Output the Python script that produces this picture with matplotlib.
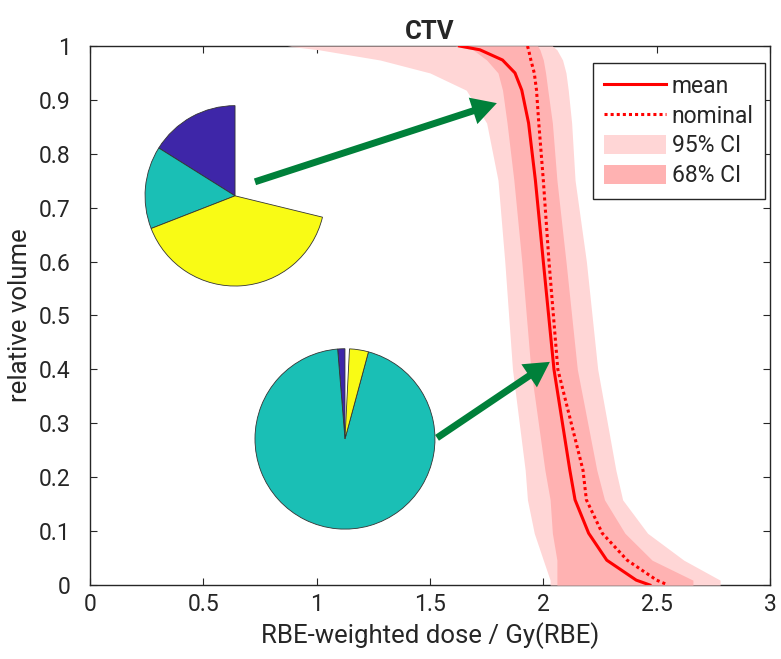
import numpy as np
import matplotlib
matplotlib.use("Agg")
import matplotlib.pyplot as plt
from matplotlib.lines import Line2D
from matplotlib.patches import Patch

plt.rcParams.update({
    'font.family': ['Roboto', 'DejaVu Sans'],
    'font.size': 16.5,
    'axes.linewidth': 1.0,
    'axes.edgecolor': '#262626',
    'text.color': '#262626',
    'axes.labelcolor': '#262626',
    'xtick.color': '#262626',
    'ytick.color': '#262626',
})

# DVH values (relative volume levels)
vol = [1.0, 0.993, 0.974, 0.95, 0.918, 0.857, 0.751, 0.60, 0.40, 0.213, 0.158, 0.096, 0.046, 0.009, 0.0]
dose_mean = [1.63, 1.72, 1.82, 1.875, 1.905, 1.935, 1.965, 2.0, 2.047, 2.117, 2.14, 2.20, 2.28, 2.41, 2.47]
dose_nominal = [1.93, 1.935, 1.945, 1.96, 1.97, 1.98, 2.0, 2.025, 2.064, 2.175, 2.19, 2.26, 2.37, 2.50, 2.55]
ci95_lo = [0.87, 1.01, 1.28, 1.50, 1.66, 1.75, 1.80, 1.83, 1.864, 1.92, 1.93, 1.96, 2.00, 2.03, 2.03]
ci95_hi = [2.04, 2.06, 2.085, 2.10, 2.11, 2.125, 2.14, 2.19, 2.24, 2.32, 2.35, 2.46, 2.62, 2.78, 2.78]
ci68_lo = [1.61, 1.69, 1.75, 1.80, 1.82, 1.84, 1.87, 1.905, 1.945, 2.007, 2.03, 2.04, 2.06, 2.06, 2.06]
ci68_hi = [1.975, 1.985, 2.0, 2.01, 2.02, 2.04, 2.06, 2.10, 2.15, 2.236, 2.27, 2.36, 2.48, 2.66, 2.66]

# pie fractions (do not sum to 1)
pie_top = [0.161, 0.148, 0.403]
pie_bottom = [0.013, 0.945, 0.034]
pie_colors = ['#3e26a8', '#1abfb5', '#f9fb15']

fig = plt.figure(figsize=(7.81, 6.59), dpi=100)
ax = fig.add_axes([0.1152, 0.1123, 0.8707, 0.8179])

ax.fill_betweenx(vol, ci95_lo, ci95_hi, color='#ffd6d6', lw=0, zorder=3)
ax.fill_betweenx(vol, ci68_lo, ci68_hi, color='#ffb2b2', lw=0, zorder=3.1)
ax.plot(dose_mean, vol, color='red', lw=2.2, zorder=4)
ax.plot(dose_nominal, vol, color='red', lw=2.2, ls=(0, (1, 1)), zorder=4)

ax.set_xlim(0, 3)
ax.set_ylim(0, 1)
ax.set_xticks(np.arange(0, 3.01, 0.5))
ax.set_xticklabels(['0', '0.5', '1', '1.5', '2', '2.5', '3'])
ax.set_yticks(np.arange(0, 1.01, 0.1))
ax.set_yticklabels(['0', '0.1', '0.2', '0.3', '0.4', '0.5', '0.6', '0.7', '0.8', '0.9', '1'])
ax.tick_params(direction='in', top=True, right=True, length=5, labelsize=16.5)
ax.tick_params(axis='x', pad=6)
ax.tick_params(axis='y', pad=14)
ax.set_xlabel('RBE-weighted dose / Gy(RBE)', fontsize=18.5, labelpad=4)
ax.set_ylabel('relative volume', fontsize=18.5, labelpad=5)
ax.set_title('CTV', fontweight='bold', fontsize=18.5, pad=5)

# pie insets
for vals, cx, cy in [(pie_top, 0.640, 0.722), (pie_bottom, 1.125, 0.271)]:
    rx, ry = 0.401, 0.169
    ins = ax.inset_axes([cx - rx, cy - ry, 2 * rx, 2 * ry], transform=ax.transData)
    ins.pie(vals, colors=pie_colors, startangle=90, counterclock=True, normalize=False,
            wedgeprops=dict(edgecolor='#333333', linewidth=0.6))
    ins.set_xlim(-1.01, 1.01)
    ins.set_ylim(-1.01, 1.01)
    ins.set_aspect('auto')
    ins.axis('off')

# arrows
for start, end in [((0.728, 0.748), (1.795, 0.894)), ((1.531, 0.273), (2.029, 0.414))]:
    ax.annotate('', xy=end, xytext=start, zorder=7,
                arrowprops=dict(width=5, headwidth=20, headlength=18, shrink=0,
                                color='#00803a', lw=0))

handles = [Line2D([], [], color='red', lw=2.2),
           Line2D([], [], color='red', lw=2.2, ls=(0, (1, 1))),
           Patch(color='#ffd6d6', lw=0),
           Patch(color='#ffb2b2', lw=0)]
leg = ax.legend(handles, ['mean', 'nominal', '95% CI', '68% CI'], loc='upper right',
                bbox_to_anchor=(0.9926, 0.968), borderaxespad=0, fancybox=False,
                framealpha=1, edgecolor='#262626', fontsize=16.5, handlelength=2.7,
                handletextpad=0.25, labelspacing=0.3, borderpad=0.5, handleheight=0.9)
leg.get_frame().set_linewidth(1.0)
leg.set_zorder(8)

fig.savefig('out.png', dpi=100)
